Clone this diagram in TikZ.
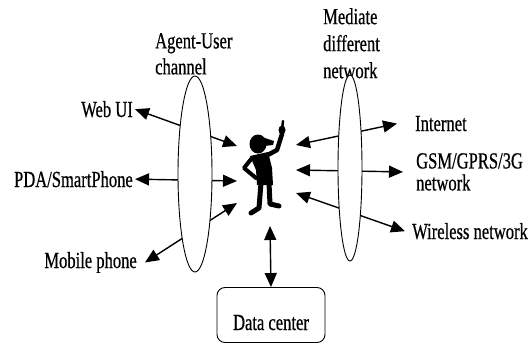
\documentclass[tikz,border=0pt]{standalone}
\usepackage{fontspec}
\setmainfont{Liberation Serif}[FakeStretch=0.72, FakeBold=0.6]
\usetikzlibrary{arrows.meta,shapes.geometric}
\begin{document}
\begin{tikzpicture}[x=1pt, y=-1pt,
  every node/.style = {inner sep=0pt, font=\fontsize{23}{26}\selectfont},
  link/.style = {{Triangle[length=14pt,width=12pt]}-{Triangle[length=14pt,width=12pt]},
    line width=1.4pt},
  channel/.style = {shape=ellipse, draw, fill=white, line width=0.9pt},
  limb/.style = {line width=4.5pt, line cap=round, line join=round}]
  \useasboundingbox (0,0) rectangle (531,343);
  % labels round the agent
  \node[anchor=north west, align=left] (agentuser) at (155,33) {Agent-User\\channel};
  \node[anchor=north west, align=left, font=\fontsize{23}{27}\selectfont]
    (mediate) at (323,8) {Mediate\\different\\network};
  \node[anchor=base east] (webui) at (133,117) {Web UI};
  \node[anchor=base east] (pda) at (133,187) {PDA/SmartPhone};
  \node[anchor=base east] (mobile) at (137,268) {Mobile phone};
  \node[anchor=base west] (internet) at (415,131) {Internet};
  \node[anchor=north west, align=left, font=\fontsize{23}{22}\selectfont]
    (gsm) at (416,153) {GSM/GPRS/3G\\network};
  \node[anchor=base west] (wireless) at (412,239) {Wireless network};
  \node[draw, rounded corners=8pt, line width=0.9pt, minimum width=108pt,
    minimum height=55pt, text height=30pt, text depth=0pt] (datacenter) at (271,315) {Data center};
  % ends at the agent
  \coordinate (u1) at (237,146);
  \coordinate (u2) at (237,181);
  \coordinate (u3) at (237,203);
  \coordinate (n1) at (296,145);
  \coordinate (n2) at (296,170);
  \coordinate (n3) at (296,193);
  \coordinate (feet) at (270,226);
  % links
  \draw[link] ([xshift=2pt]webui.east) -- (u1);
  \draw[link] ([xshift=2pt]pda.east) -- (u2);
  \draw[link] ([xshift=8pt]mobile.east) -- (u3);
  \draw[link] (n1) -- ([xshift=-18pt]internet.west);
  \draw[link] (n2) -- ([xshift=-13pt]gsm.west);
  \draw[link] (n3) -- ([xshift=-7pt]wireless.west);
  \draw[link] (feet) -- (datacenter.north);
  % the two channels
  \node[channel, minimum width=34pt, minimum height=196pt] (userch) at (195,174) {};
  \node[channel, minimum width=24pt, minimum height=186pt] (netch) at (350,168) {};
  % the agent
  \fill (258,144) ellipse [x radius=8.5, y radius=9.5];
  \fill (262,137) -- (274,141) -- (273,145) -- (264,146) -- cycle;
  \fill (250,156) -- (268,152) -- (272,168) -- (273,185) -- (257,185) -- (256,170) -- cycle;
  \draw[limb] (264,157) -- (277,150) -- (282,134);
  \fill (282,130) ellipse [x radius=3.5, y radius=4.5];
  \draw[limb, line width=2.5pt] (282,130) -- (283,121);
  \draw[limb, line width=4pt] (252,158) -- (244,168) -- (256,178);
  \draw[limb, line width=5pt] (261,183) -- (259,208) -- (251,213);
  \draw[limb, line width=5pt] (269,183) -- (270,204) -- (279,206);
\end{tikzpicture}
\end{document}
